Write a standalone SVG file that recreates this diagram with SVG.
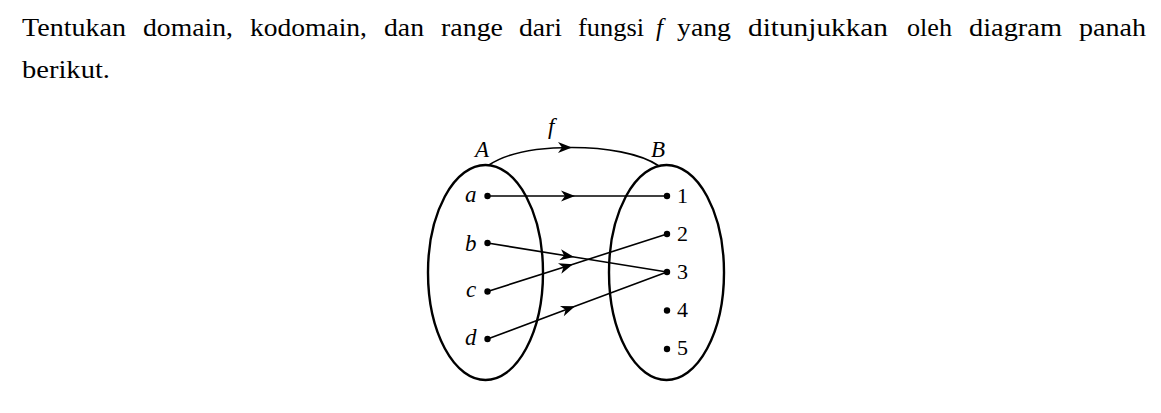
<svg xmlns="http://www.w3.org/2000/svg" width="1161" height="413" viewBox="0 0 1161 413">
<style>
.p{font-size:25px;fill:#000}
.lbl{font-style:italic;font-size:23px;fill:#000}
.num{font-size:22px;fill:#000}
.set{fill:none;stroke:#000;stroke-width:2.4}
.con{fill:none;stroke:#000;stroke-width:1.6;marker-mid:url(#ah)}
.dot{fill:#000}
</style>
<defs>
<marker id="ah" markerUnits="userSpaceOnUse" markerWidth="18" markerHeight="14" viewBox="-16 -7 17 14" refX="0" refY="0" orient="auto">
<path d="M0,0 L-14,-5.5 L-10,0 L-14,5.5 Z" fill="#000"/>
</marker>
</defs>
<rect width="1161" height="413" fill="#fff"/>
<g id="question">
<text class="p" font-family="Liberation Serif" x="22" y="36" textLength="104" lengthAdjust="spacingAndGlyphs">Tentukan</text>
<text class="p" font-family="Liberation Serif" x="143" y="36" textLength="90" lengthAdjust="spacingAndGlyphs">domain,</text>
<text class="p" font-family="Liberation Serif" x="250" y="36" textLength="117" lengthAdjust="spacingAndGlyphs">kodomain,</text>
<text class="p" font-family="Liberation Serif" x="384" y="36" textLength="40" lengthAdjust="spacingAndGlyphs">dan</text>
<text class="p" font-family="Liberation Serif" x="441" y="36" textLength="62" lengthAdjust="spacingAndGlyphs">range</text>
<text class="p" font-family="Liberation Serif" x="519" y="36" textLength="43" lengthAdjust="spacingAndGlyphs">dari</text>
<text class="p" font-family="Liberation Serif" x="578" y="36" textLength="66" lengthAdjust="spacingAndGlyphs">fungsi</text>
<text class="p" font-family="Liberation Serif" x="656" y="36" font-style="italic">f</text>
<text class="p" font-family="Liberation Serif" x="677" y="36" textLength="54" lengthAdjust="spacingAndGlyphs">yang</text>
<text class="p" font-family="Liberation Serif" x="748" y="36" textLength="140" lengthAdjust="spacingAndGlyphs">ditunjukkan</text>
<text class="p" font-family="Liberation Serif" x="907" y="36" textLength="45" lengthAdjust="spacingAndGlyphs">oleh</text>
<text class="p" font-family="Liberation Serif" x="969" y="36" textLength="93" lengthAdjust="spacingAndGlyphs">diagram</text>
<text class="p" font-family="Liberation Serif" x="1079" y="36" textLength="67" lengthAdjust="spacingAndGlyphs">panah</text>
<text class="p" font-family="Liberation Serif" x="22" y="78" textLength="88" lengthAdjust="spacingAndGlyphs">berikut.</text>
</g>
<g id="setA">
<ellipse class="set" cx="485.5" cy="272.5" rx="57.5" ry="107.5"/>
<text class="lbl" font-family="Liberation Serif" x="475" y="157">A</text>
<circle class="dot" cx="487.5" cy="196" r="3.2"/>
<circle class="dot" cx="487.5" cy="243" r="3.2"/>
<circle class="dot" cx="487.5" cy="291.5" r="3.2"/>
<circle class="dot" cx="487.5" cy="339" r="3.2"/>
<text class="lbl" font-family="Liberation Serif" x="465" y="202">a</text>
<text class="lbl" font-family="Liberation Serif" x="465" y="251">b</text>
<text class="lbl" font-family="Liberation Serif" x="466" y="297">c</text>
<text class="lbl" font-family="Liberation Serif" x="465" y="345">d</text>
</g>
<g id="setB">
<ellipse class="set" cx="666.5" cy="272.5" rx="57.5" ry="107.5"/>
<text class="lbl" font-family="Liberation Serif" x="651" y="157">B</text>
<circle class="dot" cx="667" cy="196" r="3.2"/>
<circle class="dot" cx="667" cy="234" r="3.2"/>
<circle class="dot" cx="667" cy="272" r="3.2"/>
<circle class="dot" cx="667" cy="310.5" r="3.2"/>
<circle class="dot" cx="667" cy="349" r="3.2"/>
<text class="num" font-family="Liberation Serif" x="677" y="203">1</text>
<text class="num" font-family="Liberation Serif" x="677" y="241">2</text>
<text class="num" font-family="Liberation Serif" x="677" y="279">3</text>
<text class="num" font-family="Liberation Serif" x="677" y="317">4</text>
<text class="num" font-family="Liberation Serif" x="677" y="355">5</text>
</g>
<g id="connectors">
<path class="con" d="M489,165 C510,151 540,147.5 572,147.5 C605,147.5 640,153 659,166"/>
<text class="lbl" font-family="Liberation Serif" x="548" y="134">f</text>
<path class="con" d="M487.5,196 L575,196 L667,196"/>
<path class="con" d="M487.5,243 L574,257 L667,272"/>
<path class="con" d="M487.5,291.5 L573,264.2 L667,234"/>
<path class="con" d="M487.5,339 L575,306.3 L667,272"/>
</g>
</svg>
